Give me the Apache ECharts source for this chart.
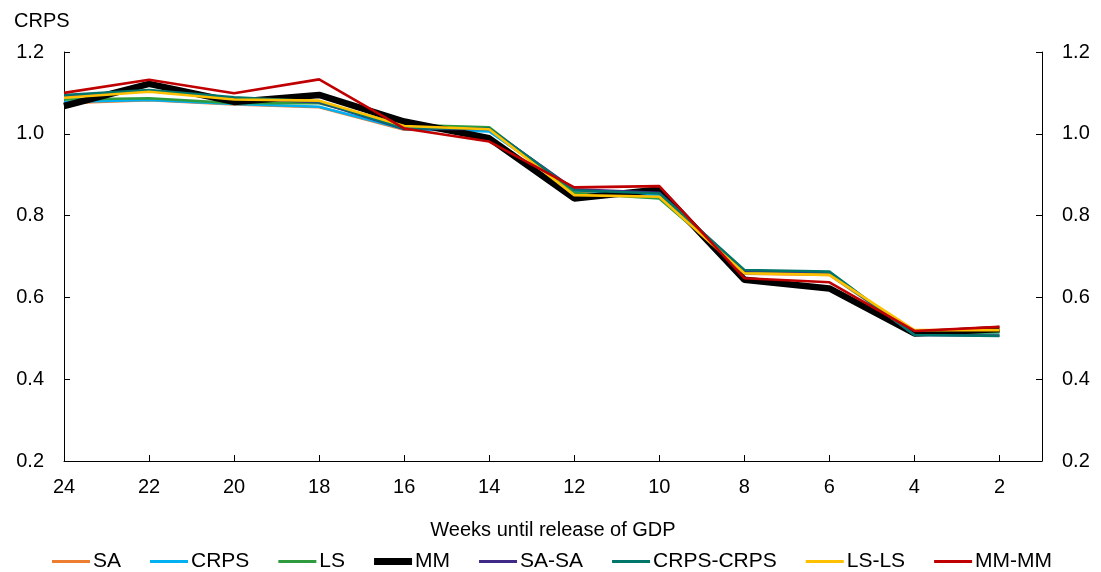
<!DOCTYPE html>
<html lang="en">
<head>
    <meta charset="UTF-8">
    <title>CRPS</title>
    <script src="https://cdn.jsdelivr.net/npm/echarts@6/dist/echarts.min.js"></script>
    <style>
        html, body { margin: 0; padding: 0; background: #fff; }
        #main { width: 1101px; height: 572px; }
    </style>
</head>
<body>
<div id="main"></div>
<script type="text/javascript">
// weeks until release of GDP
var weeks = [24, 22, 20, 18, 16, 14, 12, 10, 8, 6, 4, 2];
var yTicks = [0.2, 0.4, 0.6, 0.8, 1.0, 1.2];

var sa       = [1.075, 1.082, 1.072, 1.065, 1.010, 1.008, 0.858, 0.848, 0.658, 0.655, 0.512, 0.518];
var crps     = [1.078, 1.083, 1.073, 1.066, 1.012, 1.006, 0.862, 0.850, 0.660, 0.657, 0.512, 0.515];
var ls       = [1.084, 1.087, 1.075, 1.075, 1.022, 1.016, 0.855, 0.842, 0.663, 0.658, 0.512, 0.515];
var mm       = [1.068, 1.122, 1.078, 1.095, 1.030, 0.989, 0.842, 0.864, 0.643, 0.622, 0.512, 0.523];
var saSa     = [1.092, 1.105, 1.087, 1.077, 1.012, 1.012, 0.864, 0.856, 0.665, 0.661, 0.508, 0.507];
var crpsCrps = [1.095, 1.107, 1.089, 1.079, 1.013, 1.013, 0.862, 0.854, 0.667, 0.663, 0.508, 0.506];
var lsLs     = [1.088, 1.103, 1.084, 1.081, 1.019, 1.011, 0.850, 0.846, 0.659, 0.655, 0.520, 0.520];
var mmMm     = [1.100, 1.132, 1.099, 1.133, 1.013, 0.981, 0.869, 0.872, 0.647, 0.637, 0.518, 0.528];

var seriesNames = ['SA', 'CRPS', 'LS', 'MM', 'SA-SA', 'CRPS-CRPS', 'LS-LS', 'MM-MM'];
var seriesData = [sa, crps, ls, mm, saSa, crpsCrps, lsLs, mmMm];
var colors = ['#ED7D31', '#00B0F0', '#2E9B3E', '#000000', '#3F2A88', '#00756A', '#FFC000', '#C00000'];

var font = 'Liberation Sans, Arial, sans-serif';

function pairs(vals) {
    var out = [];
    for (var i = 0; i < weeks.length; i++) {
        out.push([weeks[i], vals[i]]);
    }
    return out;
}

var series = [];
var legendData = [];
for (var i = 0; i < seriesNames.length; i++) {
    var thick = seriesNames[i] == 'MM';
    series.push({
        name: seriesNames[i],
        type: 'line',
        data: pairs(seriesData[i]),
        symbol: 'none',
        smooth: false,
        lineStyle: { color: colors[i], width: thick ? 6.5 : 2.6 },
        itemStyle: { color: colors[i] },
        emphasis: { disabled: true }
    });
    // flat bar icons, the MM one thicker
    legendData.push({
        name: seriesNames[i],
        icon: thick ? 'path://M0,0h38v7h-38z' : 'path://M0,0h38v3h-38z',
        itemStyle: { color: colors[i] }
    });
}

var yAxisBase = {
    type: 'value',
    min: 0.2,
    max: 1.2,
    interval: 0.2,
    splitLine: { show: false },
    axisLine: { show: true, lineStyle: { color: '#000', width: 1 } },
    axisTick: { show: true, inside: true, length: 6, lineStyle: { color: '#000' } },
    axisLabel: {
        color: '#000', fontSize: 20, fontFamily: font, margin: 20,
        formatter: function (v) { return v.toFixed(1); }
    }
};

var myChart = echarts.init(document.getElementById('main'));
myChart.setOption({
    animation: false,
    title: {
        text: 'CRPS',
        left: 9,
        top: 6,
        textStyle: { color: '#000', fontSize: 20, fontWeight: 'normal', fontFamily: font }
    },
    grid: { left: 64, right: 59, top: 52, bottom: 111, containLabel: false },
    legend: {
        data: legendData,
        left: 47,
        top: 546,
        itemWidth: 38,
        itemHeight: 14,
        itemGap: 29,
        textStyle: { color: '#000', fontSize: 21, fontFamily: font, padding: [0, 0, 0, -2] }
    },
    xAxis: {
        type: 'value',
        inverse: true,
        min: 1,
        max: 24,
        splitLine: { show: false },
        axisLine: { show: true, onZero: false, lineStyle: { color: '#000', width: 1 } },
        axisTick: { show: true, inside: true, length: 6, customValues: weeks, lineStyle: { color: '#000' } },
        axisLabel: { color: '#000', fontSize: 20, fontFamily: font, margin: 16, customValues: weeks },
        name: 'Weeks until release of GDP',
        nameLocation: 'middle',
        nameGap: 59,
        nameTextStyle: { color: '#000', fontSize: 20, fontFamily: font }
    },
    yAxis: [
        Object.assign({}, yAxisBase, { position: 'left' }),
        Object.assign({}, yAxisBase, { position: 'right' })
    ],
    series: series
});
</script>
</body>
</html>
